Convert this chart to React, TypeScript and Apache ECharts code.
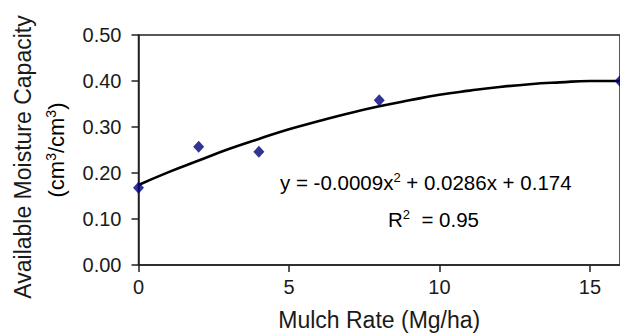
import React, { useEffect, useRef } from "react";
import * as echarts from "echarts";

const mulchRates = [0, 2, 4, 8, 16];
const moistureValues = [0.168, 0.257, 0.246, 0.358, 0.4];
const trendX = [0, 1, 2, 3, 4, 5, 6, 7, 8, 9, 10, 11, 12, 13, 14, 15, 16];
const trendY = [0.174, 0.202, 0.227, 0.252, 0.274, 0.295, 0.313, 0.33, 0.345, 0.358, 0.37, 0.379, 0.387, 0.393, 0.397, 0.4, 0.4];
const equationText = "y = -0.0009x{s|2} + 0.0286x + 0.174";
const r2Text = "R{s|2}  = 0.95";
const xTitle = "Mulch Rate (Mg/ha)";
const yTitle1 = "Available Moisture Capacity";
const yTitle2 = "(cm{s|3}/cm{s|3})";

const FONT = "'Liberation Sans', Arial, sans-serif";
const TXT = "#1a1a1a";

export default function App() {
  const ref = useRef<HTMLDivElement>(null);
  useEffect(() => {
    if (!ref.current) return;
    const chart = echarts.init(ref.current, null, { renderer: "svg" });
    const supRich = (size: number) => ({
      n: { fontSize: size, fontFamily: FONT, color: TXT, lineHeight: size + 2 },
      s: { fontSize: Math.round(size * 0.62), fontFamily: FONT, color: TXT, verticalAlign: "top" as const, lineHeight: Math.round(size * 0.62) + 1 },
    });
    const wrapN = (t: string) => t.split(/(\{s\|[^}]*\})/).map((p) => (p.startsWith("{s|") ? p : p ? `{n|${p}}` : "")).join("");
    chart.setOption({
      animation: false,
      textStyle: { fontFamily: FONT },
      grid: {
        left: 138.5,
        top: 35,
        width: 485,
        bottom: 68,
        show: true,
        borderColor: "#222",
        borderWidth: 1.5,
        backgroundColor: "transparent",
      },
      xAxis: {
        type: "value",
        min: 0,
        max: 16,
        interval: 5,
        axisLine: { show: true, lineStyle: { color: "#222", width: 1.5 } },
        axisTick: { show: true, inside: false, length: 7, lineStyle: { color: "#222", width: 1.5 } },
        axisLabel: { color: TXT, fontSize: 20, fontFamily: FONT, margin: 12, showMaxLabel: false },
        splitLine: { show: false },
        name: xTitle,
        nameLocation: "middle",
        nameGap: 43,
        nameTextStyle: { color: TXT, fontSize: 23, fontFamily: FONT },
      },
      yAxis: {
        type: "value",
        min: 0,
        max: 0.5,
        interval: 0.1,
        axisLine: { show: true, lineStyle: { color: "#222", width: 1.5 } },
        axisTick: { show: true, inside: false, length: 7, lineStyle: { color: "#222", width: 1.5 } },
        axisLabel: { color: TXT, fontSize: 20, fontFamily: FONT, margin: 17, formatter: (v: number) => v.toFixed(2) },
        splitLine: { show: false },
      },
      series: [
        {
          type: "line",
          data: trendX.map((x, i) => [x, trendY[i]]),
          smooth: true,
          showSymbol: false,
          lineStyle: { color: "#000", width: 2.6 },
          z: 2,
        },
        {
          type: "scatter",
          data: mulchRates.map((x, i) => [x, moistureValues[i]]),
          symbol: "diamond",
          symbolSize: [11, 12],
          itemStyle: { color: "#00007a" },
          z: 3,
        },
      ],
      graphic: [
        {
          type: "text",
          x: 280,
          y: 182,
          style: { text: wrapN(equationText), rich: supRich(20.5), verticalAlign: "middle", align: "left" },
        },
        {
          type: "text",
          x: 388,
          y: 219,
          style: { text: wrapN(r2Text), rich: supRich(20.5), verticalAlign: "middle", align: "left" },
        },
        {
          type: "text",
          x: 23,
          y: 157,
          rotation: Math.PI / 2,
          style: { text: yTitle1, fontSize: 23, fontFamily: FONT, fill: TXT, align: "center", verticalAlign: "middle" },
        },
        {
          type: "text",
          x: 56,
          y: 150,
          rotation: Math.PI / 2,
          style: { text: wrapN(yTitle2), rich: supRich(22), align: "center", verticalAlign: "middle" },
        },
      ],
    });
    return () => chart.dispose();
  }, []);
  return <div ref={ref} style={{ position: "absolute", left: 0, top: 0, width: 620, height: 336 }} />;
}
